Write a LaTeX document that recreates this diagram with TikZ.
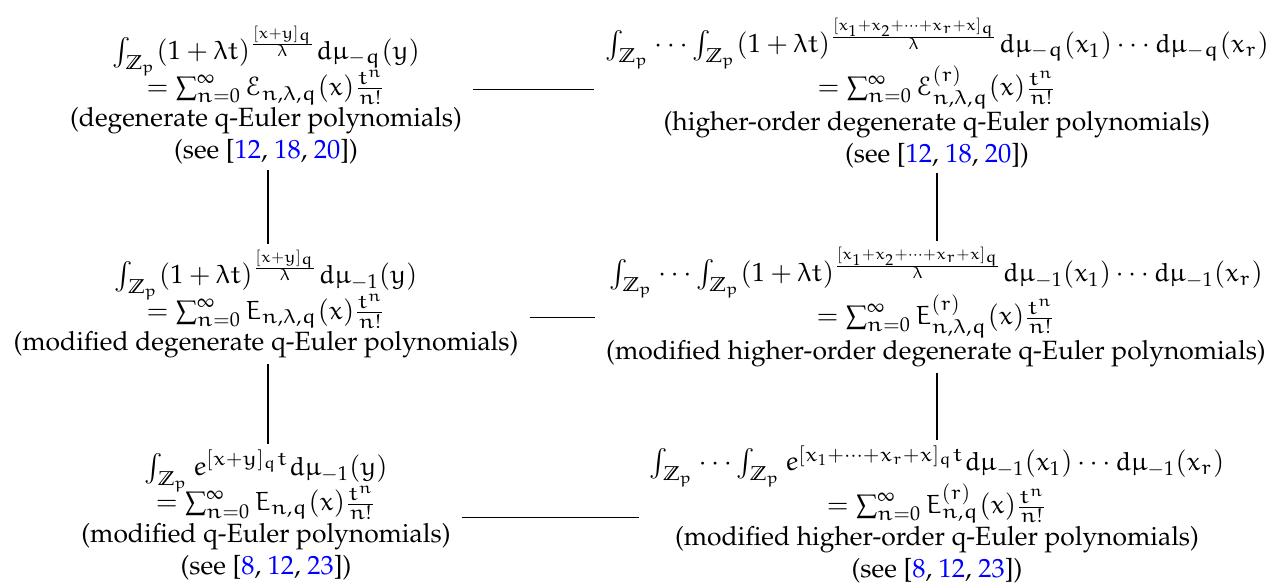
\documentclass[tikz,border=0pt]{standalone}
\usepackage[T1]{fontenc}
\usepackage{amssymb}
\usepackage{mathpazo}
\DeclareSymbolFont{letters}{U}{eur}{m}{n}
\SetSymbolFont{letters}{bold}{U}{eur}{b}{n}
\DeclareMathAlphabet{\mathcal}{U}{eus}{m}{n}
\newcommand{\rf}[1]{\textcolor{blue}{#1}}
\tikzset{
  poly/.style={align=center, inner sep=2pt},
  link/.style={black, line width=0.5pt},
  hlink/.style={link, shorten <=2pt, shorten >=2pt}
}
\begin{document}
\begin{tikzpicture}[x=0.0133cm, y=-0.0133cm]
  % frame of the picture
  \useasboundingbox (0,0) rectangle (1271,584);
  % left column
  \node[poly] (tl) at (266,95) {$\int_{\mathbb{Z}_p}(1+\lambda t)^{\frac{[x+y]_q}{\lambda}}d\mu_{-q}(y)$\\[-3pt]
    $=\sum_{n=0}^{\infty}\mathcal{E}_{n,\lambda,q}(x)\frac{t^n}{n!}$\\
    (degenerate q-Euler polynomials)\\
    (see [\rf{12}, \rf{18}, \rf{20}])};
  \node[poly] (ml) at (266,304) {$\int_{\mathbb{Z}_p}(1+\lambda t)^{\frac{[x+y]_q}{\lambda}}d\mu_{-1}(y)$\\[-3pt]
    $=\sum_{n=0}^{\infty}E_{n,\lambda,q}(x)\frac{t^n}{n!}$\\
    (modified degenerate q-Euler polynomials)};
  \node[poly] (bl) at (266,515) {$\int_{\mathbb{Z}_p}e^{[x+y]_q t}d\mu_{-1}(y)$\\[-3pt]
    $=\sum_{n=0}^{\infty}E_{n,q}(x)\frac{t^n}{n!}$\\
    (modified q-Euler polynomials)\\
    (see [\rf{8}, \rf{12}, \rf{23}])};
  % right column
  \node[poly] (tr) at (937,93) {$\int_{\mathbb{Z}_p}\cdots\int_{\mathbb{Z}_p}(1+\lambda t)^{\frac{[x_1+x_2+\cdots+x_r+x]_q}{\lambda}}d\mu_{-q}(x_1)\cdots d\mu_{-q}(x_r)$\\[-2pt]
    $=\sum_{n=0}^{\infty}\mathcal{E}^{(r)}_{n,\lambda,q}(x)\frac{t^n}{n!}$\\
    (higher-order degenerate q-Euler polynomials)\\
    (see [\rf{12}, \rf{18}, \rf{20}])};
  \node[poly] (mr) at (936,307) {$\int_{\mathbb{Z}_p}\cdots\int_{\mathbb{Z}_p}(1+\lambda t)^{\frac{[x_1+x_2+\cdots+x_r+x]_q}{\lambda}}d\mu_{-1}(x_1)\cdots d\mu_{-1}(x_r)$\\[-2pt]
    $=\sum_{n=0}^{\infty}E^{(r)}_{n,\lambda,q}(x)\frac{t^n}{n!}$\\
    (modified higher-order degenerate q-Euler polynomials)};
  \node[poly] (br) at (937,514) {$\int_{\mathbb{Z}_p}\cdots\int_{\mathbb{Z}_p}e^{[x_1+\cdots+x_r+x]_q t}d\mu_{-1}(x_1)\cdots d\mu_{-1}(x_r)$\\[-2pt]
    $=\sum_{n=0}^{\infty}E^{(r)}_{n,q}(x)\frac{t^n}{n!}$\\
    (modified higher-order q-Euler polynomials)\\
    (see [\rf{8}, \rf{12}, \rf{23}])};
  % links
  \draw[hlink] ([yshift=2pt]tl.east) -- ([yshift=2pt]tl.east -| tr.west);
  \draw[hlink] ([yshift=-5pt]ml.east) -- ([yshift=-5pt]ml.east -| mr.west);
  \draw[hlink] ([yshift=-1pt]bl.east) -- ([yshift=-1pt]bl.east -| br.west);
  \draw[link] (tl.south -| 268,0) -- (ml.north -| 268,0);
  \draw[link] (ml.south -| 268,0) -- (bl.north -| 268,0);
  \draw[link] (tr.south -| 937,0) -- (mr.north -| 937,0);
  \draw[link] (mr.south -| 937,0) -- (br.north -| 937,0);
\end{tikzpicture}
\end{document}
